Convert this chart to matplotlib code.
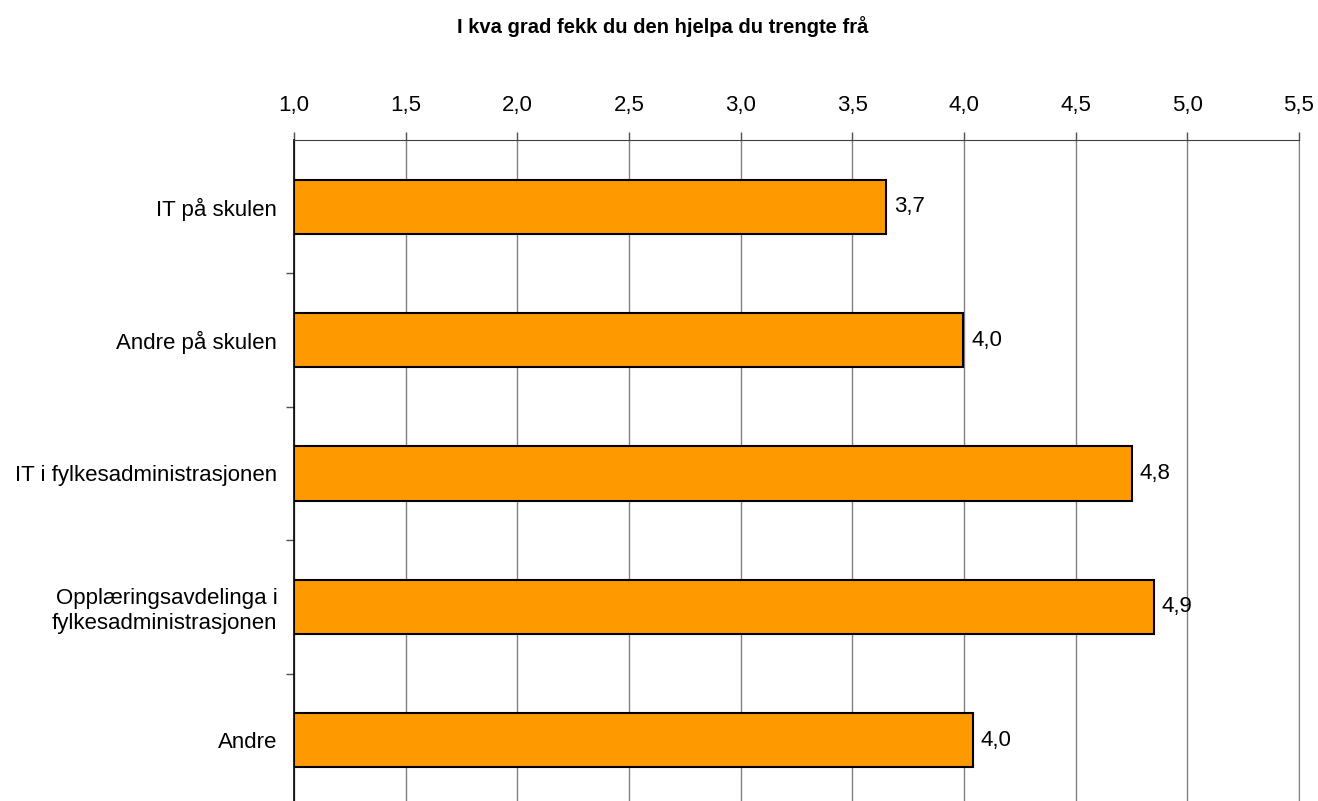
import matplotlib
matplotlib.use("Agg")
from matplotlib import pyplot as plt
import numpy as np

plt.rcParams['font.family'] = ['Liberation Sans', 'DejaVu Sans']

categories = ['IT på skulen', 'Andre på skulen', 'IT i fylkesadministrasjonen',
              'Opplæringsavdelinga i\nfylkesadministrasjonen', 'Andre']
values = [3.652, 3.997, 4.752, 4.851, 4.04]
xticks = [1.0, 1.5, 2.0, 2.5, 3.0, 3.5, 4.0, 4.5, 5.0, 5.5]

fig = plt.figure(figsize=(13.18, 8.01), dpi=100)
ax = fig.add_axes([294 / 1318, -6 / 801, (1299 - 294) / 1318, (807 - 140) / 801])

y = np.arange(len(categories))
ax.barh(y, [v - 1.0 for v in values], left=1.0, height=0.405,
        color='#FF9900', edgecolor='black', linewidth=1.5, zorder=3)

for yi, v in zip(y, values):
    ax.text(v + 0.035, yi, f'{v:.1f}'.replace('.', ','), va='center', ha='left',
            fontsize=16, zorder=4)

ax.set_xlim(1.0, 5.5)
ax.set_ylim(len(categories) - 0.5, -0.5)
ax.xaxis.tick_top()
ax.set_xticks(xticks)
ax.set_xticklabels([f'{t:.1f}'.replace('.', ',') for t in xticks], fontsize=16)
ax.tick_params(axis='x', length=6, width=1, pad=11, color='#505050')
ax.grid(axis='x', color='#808080', linewidth=1, zorder=0)

ax.set_yticks(y)
ax.set_yticklabels(categories, fontsize=16, multialignment='right')
ax.set_yticks(np.arange(0.5, len(categories) - 0.5, 1), minor=True)
ax.tick_params(axis='y', which='major', length=0, pad=12)
ax.tick_params(axis='y', which='minor', length=6, width=1, color='#505050')

ax.spines['bottom'].set_visible(False)
ax.spines['right'].set_color('#808080')
ax.spines['top'].set_color('#404040')
ax.spines['left'].set_color('black')
ax.spines['left'].set_linewidth(1.2)

fig.text(663 / 1318, 1 - 27 / 801, 'I kva grad fekk du den hjelpa du trengte frå',
         ha='center', va='center', fontsize=14.5, fontweight='bold')

fig.savefig('out.png', dpi=100)
